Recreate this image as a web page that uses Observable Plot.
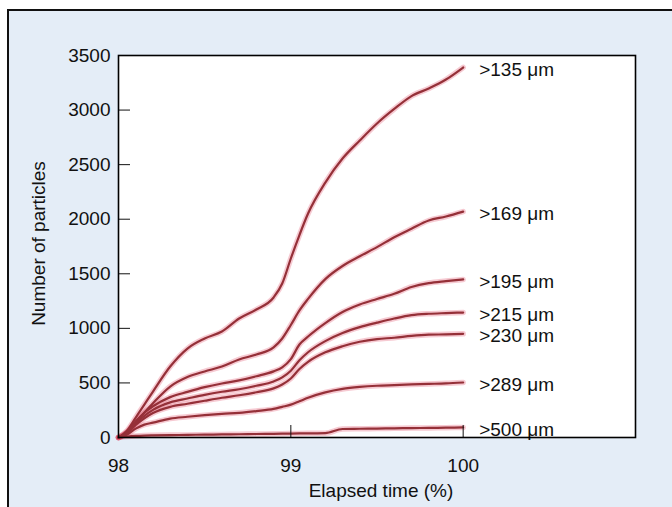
<!DOCTYPE html>
<html>
<head>
<meta charset="utf-8">
<script src="https://cdn.jsdelivr.net/npm/d3@7"></script>
<script src="https://cdn.jsdelivr.net/npm/@observablehq/plot@0.6"></script>
<style>
  html, body { margin: 0; padding: 0; background: #ffffff; overflow: hidden; width: 672px; height: 507px; }
  #bg { position: absolute; left: 7px; top: 9px; width: 720px; height: 540px; background: #e4edf7; border: 2px solid #111; }
  #chart { position: absolute; left: 0; top: 0; }
</style>
</head>
<body>
<div id="bg"></div>
<div id="chart"></div>
<script>
const time = [98.0, 98.05, 98.1, 98.15, 98.2, 98.3, 98.4, 98.5, 98.6, 98.7, 98.8, 98.9, 98.95, 99.0, 99.05, 99.1, 99.2, 99.3, 99.4, 99.5, 99.6, 99.7, 99.8, 99.9, 100.0];
const n135 = [0, 64, 183, 302, 421, 650, 815, 907, 971, 1090, 1173, 1283, 1411, 1640, 1855, 2052, 2336, 2556, 2721, 2877, 3010, 3128, 3198, 3280, 3390];
const n169 = [0, 49, 139, 229, 314, 467, 554, 605, 650, 715, 760, 825, 907, 1031, 1164, 1270, 1451, 1571, 1660, 1744, 1835, 1913, 1988, 2025, 2070];
const n195 = [0, 51, 148, 227, 286, 370, 418, 461, 495, 523, 561, 606, 642, 718, 852, 925, 1048, 1150, 1219, 1269, 1317, 1379, 1415, 1433, 1448];
const n215 = [0, 45, 128, 198, 253, 322, 357, 391, 419, 442, 474, 514, 551, 612, 707, 781, 883, 957, 1011, 1052, 1090, 1121, 1134, 1140, 1145];
const n230 = [0, 39, 115, 176, 224, 281, 309, 337, 364, 387, 415, 450, 486, 541, 628, 693, 780, 836, 877, 902, 914, 931, 942, 945, 950];
const n289 = [0, 28, 81, 118, 136, 173, 190, 205, 217, 226, 242, 262, 281, 301, 332, 364, 413, 445, 463, 474, 480, 486, 491, 496, 504];
const n500 = [0, 8, 14, 18, 20, 22, 24, 26, 28, 30, 32, 34, 35, 36, 37, 38, 40, 78, 80, 82, 84, 86, 88, 90, 92];
const sizeLabels = [">135 μm", ">169 μm", ">195 μm", ">215 μm", ">230 μm", ">289 μm", ">500 μm"];
const seriesValues = [n135, n169, n195, n215, n230, n289, n500];
const xTicks = [98, 99, 100];
const yTicks = [0, 500, 1000, 1500, 2000, 2500, 3000, 3500];
const xLabel = "Elapsed time (%)";
const yLabel = "Number of particles";

const rows = sizeLabels.flatMap((s, i) => time.map((t, j) => ({size: s, t, n: seriesValues[i][j]})));

const chart = Plot.plot({
  width: 672,
  height: 507,
  marginLeft: 118,
  marginRight: 37,
  marginTop: 55,
  marginBottom: 70,
  style: {background: "transparent", fontFamily: "'Liberation Sans', Arial, Helvetica, sans-serif", fontSize: "19px", color: "#111"},
  x: {domain: [98, 101]},
  y: {domain: [0, 3500]},
  marks: [
    Plot.frame({fill: "white", stroke: null}),
    Plot.line(rows, {x: "t", y: "n", z: "size", curve: "monotone-x", stroke: "#e2506a", strokeOpacity: 0.3, strokeWidth: 5.5}),
    Plot.line(rows, {x: "t", y: "n", z: "size", curve: "monotone-x", stroke: "#953038", strokeWidth: 2.2}),
    Plot.text(rows, Plot.selectLast({x: "t", y: "n", z: "size", text: "size", textAnchor: "start", dx: 16, dy: 2, fill: "#111"})),
    Plot.axisX({ticks: xTicks, tickSize: -12, tickPadding: 33, label: null, tickFormat: d => String(d), stroke: "#111"}),
    Plot.axisY({ticks: yTicks, tickSize: -12, tickPadding: 20, label: null, tickFormat: d => String(d), stroke: "#111"}),
    Plot.text([xLabel], {text: d => d, frameAnchor: "bottom", textAnchor: "middle", dx: 4, dy: 59, fill: "#111"}),
    Plot.text([yLabel], {text: d => d, frameAnchor: "left", textAnchor: "middle", rotate: -90, dx: -80, dy: -3, fill: "#111"}),
    Plot.frame({stroke: "#000", strokeWidth: 1.6})
  ]
});
document.getElementById("chart").appendChild(chart);
</script>
</body>
</html>
